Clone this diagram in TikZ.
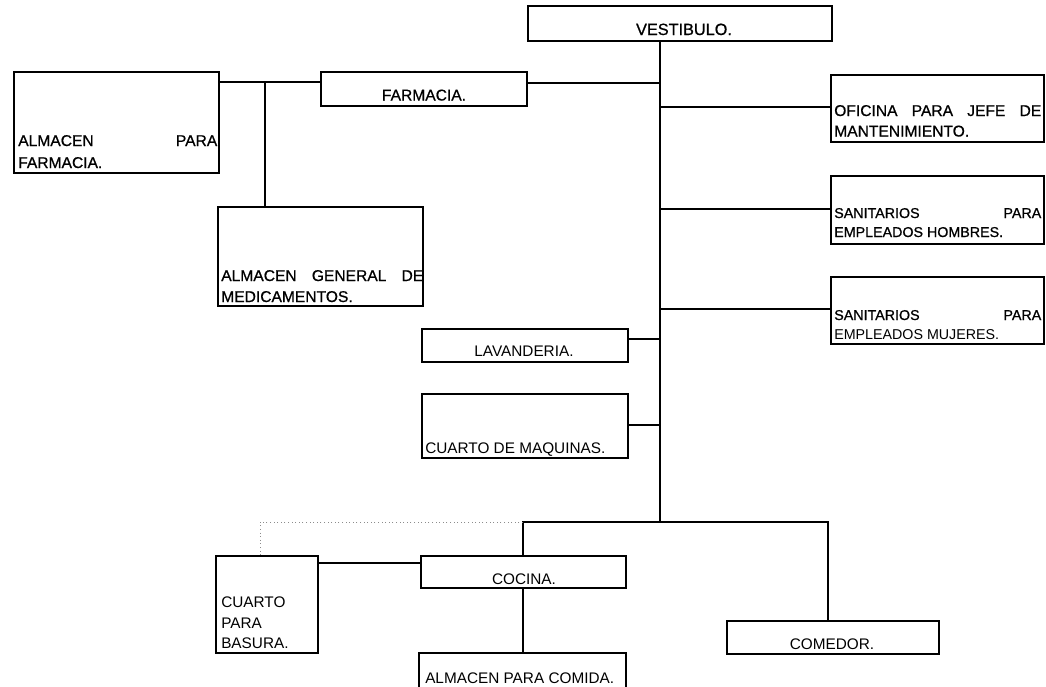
\documentclass[tikz,border=0pt]{standalone}
\usepackage{fontspec}
\setmainfont{Liberation Sans}
\newfontfamily\heavyfont[FakeBold=0.8]{Liberation Sans}
\usetikzlibrary{fit}
\tikzset{
  box/.style={draw=black, line width=1pt, inner sep=0pt, rectangle},
  conn/.style={draw=black, line width=0.8pt},
  dotconn/.style={draw=black!45, line width=0.7pt, dotted},
  txt/.style={inner sep=0pt, font=\fontsize{11.5}{14}\selectfont, anchor=base},
  txtl/.style={txt, anchor=base west, align=left},
  heavy/.style={font=\heavyfont\fontsize{11.7}{14}\selectfont},
  small/.style={font=\fontsize{10.7}{13}\selectfont},
  heavysmall/.style={font=\heavyfont\fontsize{10.7}{13}\selectfont},
}
\begin{document}
\begin{tikzpicture}[x=0.75pt, y=-0.75pt]
\useasboundingbox (0,0) rectangle (1046,686);
% boxes
\node[box, fit={(528,6) (832,41)}] (vest) {};
\node[box, fit={(321,72) (527,106)}] (farm) {};
\node[box, fit={(14,72) (219,173)}] (almf) {};
\node[box, fit={(218,207) (423,306)}] (almg) {};
\node[box, fit={(831,75) (1044,142)}] (ofic) {};
\node[box, fit={(831,176) (1044,244)}] (sanh) {};
\node[box, fit={(831,277) (1044,344)}] (sanm) {};
\node[box, fit={(422,329) (628,362)}] (lav) {};
\node[box, fit={(422,394) (628,458)}] (maq) {};
\node[box, fit={(421,556) (626,588)}] (coc) {};
\node[box, fit={(216,556) (318,653)}] (bas) {};
\node[box, fit={(419,653) (626,692)}] (almc) {};
\node[box, fit={(727,621) (939,654)}] (com) {};
% texts
\node[txt, font=\heavyfont\fontsize{12.2}{14}\selectfont] (vestT) at (684,35) {VESTIBULO.};
\node[txt, heavy] (farmT) at (424,100.5) {FARMACIA.};
\node[txtl, heavy, text width=149.25pt] (almfA) at (18,146) {ALMACEN\hfill PARA};
\node[txtl, heavy] (almfB) at (18,168) {FARMACIA.};
\node[txtl, heavy, text width=151.5pt] (almgA) at (221,281) {ALMACEN\hfill GENERAL\hfill DE};
\node[txtl, heavy] (almgB) at (221,302) {MEDICAMENTOS.};
\node[txtl, heavy, text width=155.25pt] (oficA) at (834,116) {OFICINA\hfill PARA\hfill JEFE\hfill DE};
\node[txtl, heavy] (oficB) at (834,136.5) {MANTENIMIENTO.};
\node[txtl, heavysmall, text width=155.25pt] (sanhA) at (834,218) {SANITARIOS\hfill PARA};
\node[txtl, heavysmall] (sanhB) at (834,237) {EMPLEADOS HOMBRES.};
\node[txtl, heavysmall, text width=155.25pt] (sanmA) at (834,320) {SANITARIOS\hfill PARA};
\node[txtl, small] (sanmB) at (834,339) {EMPLEADOS MUJERES.};
\node[txt] (lavT) at (524,356) {LAVANDERIA.};
\node[txtl] (maqT) at (425,453) {CUARTO DE MAQUINAS.};
\node[txt] (cocT) at (524,584) {COCINA.};
\node[txtl] (basA) at (221,607) {CUARTO};
\node[txtl] (basB) at (221,628) {PARA};
\node[txtl] (basC) at (221,648) {BASURA.};
\node[txtl] (almcT) at (425,683) {ALMACEN PARA COMIDA.};
\node[txt] (comT) at (832,649) {COMEDOR.};
% junction coordinates
\coordinate (tTop) at (660,41);
\coordinate (tBot) at (660,522);
\coordinate (jFarm) at (265,82);
\coordinate (jFarmR) at (660,83);
\coordinate (jOfic) at (660,107);
\coordinate (jSanh) at (660,209);
\coordinate (jSanm) at (660,309);
\coordinate (jLav) at (660,339);
\coordinate (jMaq) at (660,425);
\coordinate (jCoc) at (523,522);
\coordinate (jCom) at (828,522);
\coordinate (jBasTop) at (260,522);
\coordinate (jBas) at (318,563);
% connectors
\draw[conn] (almf.east |- jFarm) -- (farm.west |- jFarm);
\draw[conn] (jFarm) -- (jFarm |- almg.north);
\draw[conn] (farm.east |- jFarmR) -- (jFarmR);
\draw[conn] (tTop) -- (tBot);
\draw[conn] (jOfic) -- (ofic.west |- jOfic);
\draw[conn] (jSanh) -- (sanh.west |- jSanh);
\draw[conn] (jSanm) -- (sanm.west |- jSanm);
\draw[conn] (lav.east |- jLav) -- (jLav);
\draw[conn] (maq.east |- jMaq) -- (jMaq);
\draw[conn] (jCoc |- coc.north) -- (jCoc) -- (jCom) -- (jCom |- com.north);
\draw[dotconn] (jCoc) -- (jBasTop) -- (jBasTop |- bas.north);
\draw[conn] (bas.east |- jBas) -- (coc.west |- jBas);
\draw[conn] (jCoc |- coc.south) -- (jCoc |- almc.north);
\end{tikzpicture}
\end{document}
